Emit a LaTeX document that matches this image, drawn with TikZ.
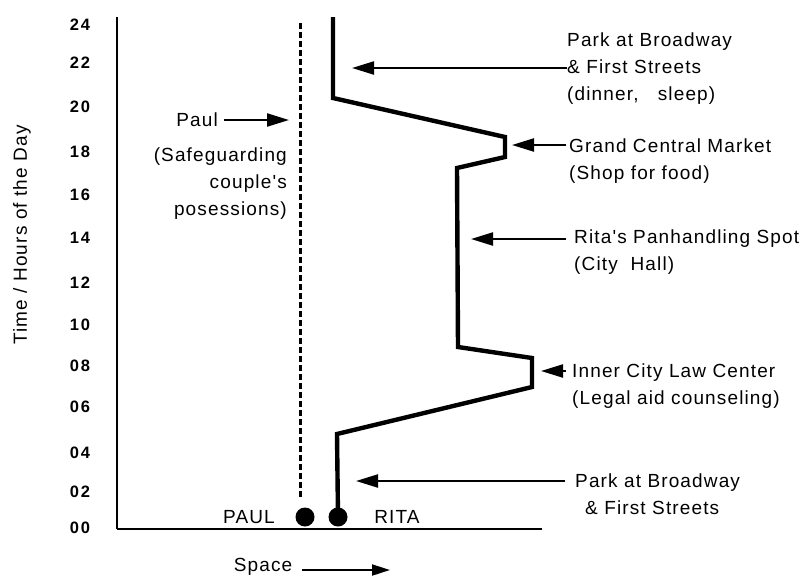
\documentclass[tikz,border=0pt]{standalone}
\usepackage{fontspec}
\setmainfont{Liberation Sans}
\newfontfamily\lblfont[LetterSpace=6.0]{Liberation Sans}
\newfontfamily\tickfont[LetterSpace=12.0]{Liberation Sans}
\usetikzlibrary{arrows.meta}
\tikzset{
  lbl/.style={font=\lblfont\fontsize{19}{27}\selectfont, inner sep=0pt, align=left},
  tick/.style={font=\tickfont\bfseries\fontsize{16.5}{16.5}\selectfont, inner sep=0pt},
  ptr/.style={line width=2.2pt, -{Triangle[length=22pt,width=13pt]}},
  track/.style={line width=4.4pt, line join=miter},
  dot/.style={circle, fill=black, inner sep=0pt, minimum size=19pt},
}

\begin{document}
\begin{tikzpicture}[x=1pt,y=-1pt]
  \useasboundingbox (0,0) rectangle (808,579);
  % axes
  \draw[line width=2.6pt] (117,17) -- (117,529);
  \draw[line width=2pt] (117,529) -- (542,529);
  \foreach \h/\y in {24/25,22/63,20/107,18/152,16/195,14/238,12/283,10/325,08/366,06/407,04/453,02/492,00/528}
    \node[tick] (t\h) at (80,\y) {\h};
  \node[lbl, rotate=90] (ytitle) at (22,235) {Time / Hours of the Day};
  \node[lbl] (space) at (263,567) {Space};
  \coordinate (spaceTip) at (390,570);
  \draw[line width=2pt, -{Triangle[length=18pt,width=11pt]}] ([xshift=10pt]space.east |- spaceTip) -- (spaceTip);

  % Paul
  \node[dot] (paulDot) at (305,517) {};
  \coordinate (paulBot) at (300,497);
  \coordinate (paulTop) at (300,22);
  \draw[line width=3pt, dash pattern=on 6pt off 3pt] (paulBot) -- (paulTop);
  \node[lbl, anchor=east] (paulName) at (218,120) {Paul};
  \coordinate (paulTip) at (289,120);
  \draw[ptr] ([xshift=6pt]paulName.east) -- (paulTip);
  \node[lbl, align=right, anchor=north east] (paulNote) at (287,148) {(Safeguarding\\couple's\\posessions)};
  \node[lbl, anchor=center] (paulTag) at (249,517) {PAUL};

  % Rita
  \node[dot] (ritaDot) at (338,517) {};
  \node[lbl, anchor=center] (ritaTag) at (397,517) {RITA};
  \draw[track] (ritaDot.center) -- (337,434) -- (532,387) -- (532,358) -- (458,347)
    -- (457,168) -- (505,157) -- (505,137) -- (333,98) -- (333,17);

  % places
  \node[lbl, anchor=north west] (parkTop) at (567,33) {Park at Broadway\\\& First Streets\\(dinner,\ \ \ sleep)};
  \coordinate (parkTopTip) at (352,68);
  \draw[ptr] (parkTop.west |- parkTopTip) -- (parkTopTip);

  \node[lbl, anchor=north west] (market) at (569,139) {Grand Central Market\\(Shop for food)};
  \coordinate (marketTip) at (512,145);
  \draw[ptr] ([xshift=-3pt]market.west |- marketTip) -- (marketTip);

  \node[lbl, anchor=north west] (spot) at (574,230) {Rita's Panhandling Spot\\(City\ \ Hall)};
  \coordinate (spotTip) at (471,239);
  \draw[ptr] ([xshift=-8pt]spot.west |- spotTip) -- (spotTip);

  \node[lbl, anchor=north west] (law) at (572,364) {Inner City Law Center\\(Legal aid counseling)};
  \coordinate (lawTip) at (541,371);
  \draw[ptr] ([xshift=-6pt]law.west |- lawTip) -- (lawTip);

  \node[lbl, anchor=north west] (parkBot) at (575,474) {Park at Broadway\\\hspace*{10pt}\& First Streets};
  \coordinate (parkBotTip) at (356,481);
  \draw[ptr] ([xshift=-10pt]parkBot.west |- parkBotTip) -- (parkBotTip);
\end{tikzpicture}
\end{document}
